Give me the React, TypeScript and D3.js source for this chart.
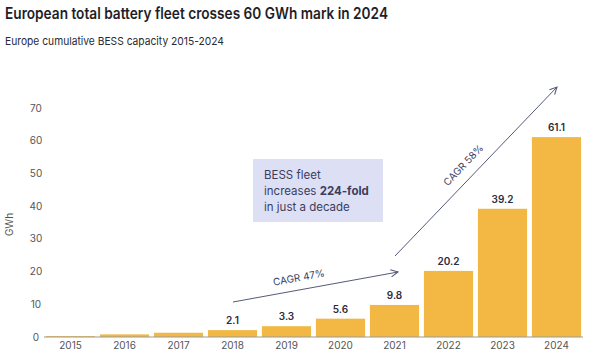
import React from "react";
import * as d3 from "d3";

const years = ["2015","2016","2017","2018","2019","2020","2021","2022","2023","2024"];
const capacity = [0.27, 0.8, 1.3, 2.1, 3.3, 5.6, 9.8, 20.2, 39.2, 61.1];
const labels = ["", "", "", "2.1", "3.3", "5.6", "9.8", "20.2", "39.2", "61.1"];
const yTicks = [0, 10, 20, 30, 40, 50, 60, 70];

const W = 600, H = 355;
const FONT = "Inter, 'DejaVu Sans', sans-serif";

export default function App() {
  const x = d3.scaleBand<string>().domain(years).range([43.5, 583.5]).paddingInner(0.09).paddingOuter(0.045);
  const y = d3.scaleLinear().domain([0, 70]).range([337, 108]);
  const bar = "#f2b843";
  const ink = "#2c2c3e";
  const grey = "#555";

  const a1 = { x1: 233, y1: 302, x2: 398, y2: 272 };
  const a2 = { x1: 395, y1: 256, x2: 557, y2: 87 };
  const ang1 = Math.atan2(a1.y2 - a1.y1, a1.x2 - a1.x1) * 180 / Math.PI;
  const ang2 = Math.atan2(a2.y2 - a2.y1, a2.x2 - a2.x1) * 180 / Math.PI;

  return (
    <svg width={W} height={H} style={{ position: "absolute", left: 0, top: 0, background: "#fff" }} fontFamily={FONT}>
      <defs>
        <marker id="arr" viewBox="0 0 10 10" refX="9" refY="5" markerWidth="9" markerHeight="9" orient="auto" markerUnits="userSpaceOnUse">
          <path d="M1,1 L9,5 L1,9" fill="none" stroke="#555a78" strokeWidth="1.2" />
        </marker>
      </defs>
      <text x={5} y={19} fontSize={15.5} fontWeight={600} fill="#1e1e28" textLength={383} lengthAdjust="spacingAndGlyphs">European total battery fleet crosses 60 GWh mark in 2024</text>
      <text x={5} y={45} fontSize={11} fill="#2a2a35" textLength={219} lengthAdjust="spacingAndGlyphs">Europe cumulative BESS capacity 2015-2024</text>

      <text transform={`translate(13,${y(35) + 2}) rotate(-90)`} textAnchor="middle" fontSize={10} fill={grey}>GWh</text>
      {yTicks.map(t => (
        <text key={t} x={36} y={y(t) + 3.5} textAnchor="middle" fontSize={10} fill={grey}>{t}</text>
      ))}

      {years.map((yr, i) => (
        <rect key={yr} x={x(yr)} y={y(capacity[i])} width={x.bandwidth()} height={y(0) - y(capacity[i])} fill={bar} />
      ))}
      <line x1={44} x2={583} y1={y(0)} y2={y(0)} stroke="#9a9a9a" strokeWidth={1.2} />
      {years.map((yr, i) => (
        labels[i] ? <text key={yr} x={x(yr)! + x.bandwidth() / 2} y={y(capacity[i]) - 6} textAnchor="middle" fontSize={10} fontWeight={600} fill={ink}>{labels[i]}</text> : null
      ))}
      {years.map(yr => (
        <text key={yr} x={x(yr)! + x.bandwidth() / 2} y={349} textAnchor="middle" fontSize={10} fill={grey}>{yr}</text>
      ))}

      <rect x={253} y={159} width={130} height={63} fill="#dde0f5" />
      <text x={264} y={179} fontSize={11.5} fill="#3b3d5e">BESS fleet</text>
      <text x={264} y={195} fontSize={11.5} fill="#3b3d5e">increases <tspan fontWeight={700}>224-fold</tspan></text>
      <text x={264} y={211} fontSize={11.5} fill="#3b3d5e">in just a decade</text>

      <line {...a1} stroke="#555a78" strokeWidth={1} markerEnd="url(#arr)" />
      <text transform={`translate(${(a1.x1 + a1.x2) / 2 - 16},${(a1.y1 + a1.y2) / 2 - 6}) rotate(${ang1})`} textAnchor="middle" fontSize={10} fill="#3b3d5e">CAGR 47%</text>
      <line {...a2} stroke="#555a78" strokeWidth={1} markerEnd="url(#arr)" />
      <text transform={`translate(${(a2.x1 + a2.x2) / 2 - 10},${(a2.y1 + a2.y2) / 2 - 4}) rotate(${ang2})`} textAnchor="middle" fontSize={10} fill="#3b3d5e">CAGR 58%</text>
    </svg>
  );
}
